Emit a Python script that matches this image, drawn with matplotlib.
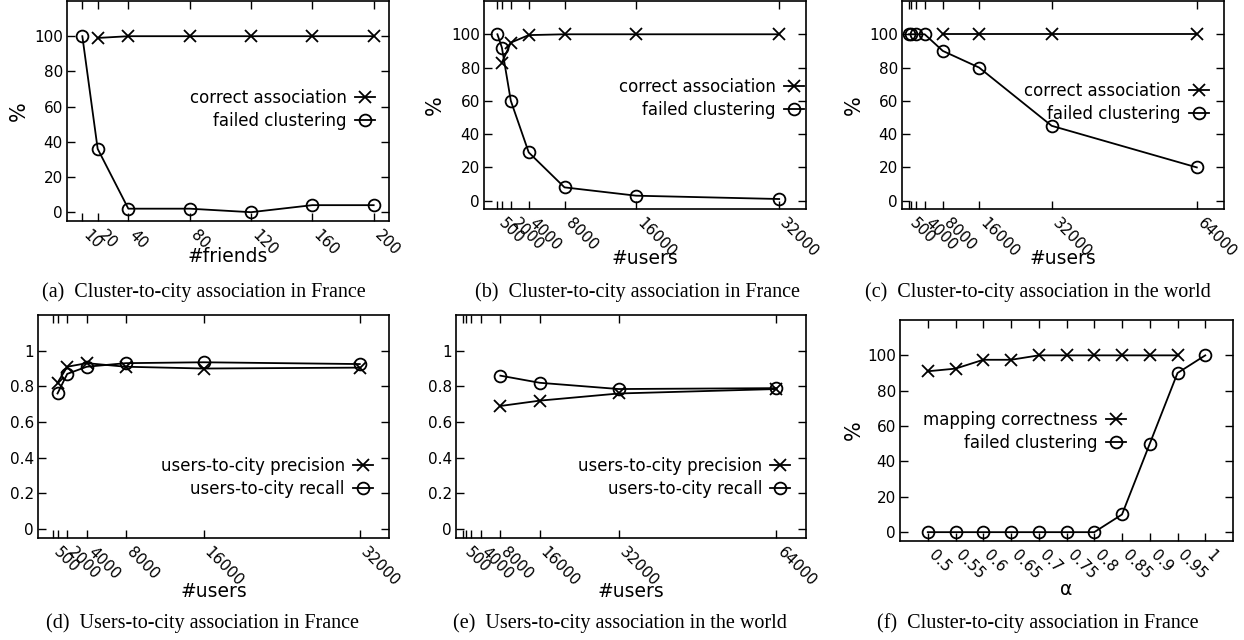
import matplotlib
matplotlib.use('Agg')
import matplotlib.pyplot as plt

# ---------------- data ----------------
a_friends = [10, 20, 40, 80, 120, 160, 200]
a_correct_x = [20, 40, 80, 120, 160, 200]
a_correct = [99, 100, 100, 100, 100, 100]
a_failed = [100, 36, 2, 2, 0, 4, 4]
a_ticks = [10, 20, 40, 80, 120, 160, 200]
a_labels = ['10', '20', '40', '80', '120', '160', '200']

b_users = [500, 1000, 2000, 4000, 8000, 16000, 32000]
b_correct_x = [1000, 2000, 4000, 8000, 16000, 32000]
b_correct = [83, 95, 99.5, 100, 100, 100]
b_failed = [100, 92, 60, 29, 8, 3, 1]
b_ticks = [500, 1000, 2000, 4000, 8000, 16000, 32000]
b_labels = ['500', '', '2000', '4000', '8000', '16000', '32000']

c_users = [500, 1000, 2000, 4000, 8000, 16000, 32000, 64000]
c_correct_x = [8000, 16000, 32000, 64000]
c_correct = [100, 100, 100, 100]
c_failed = [100, 100, 100, 100, 90, 80, 45, 20]
c_ticks = [500, 1000, 2000, 4000, 8000, 16000, 32000, 64000]
c_labels = ['500', '', '', '4000', '8000', '16000', '32000', '64000']

d_users = [1000, 2000, 4000, 8000, 16000, 32000]
d_precision = [0.82, 0.91, 0.93, 0.91, 0.90, 0.905]
d_recall = [0.76, 0.87, 0.91, 0.93, 0.935, 0.925]

e_users = [8000, 16000, 32000, 64000]
e_precision = [0.69, 0.72, 0.76, 0.785]
e_recall = [0.86, 0.82, 0.785, 0.79]

f_alpha = [0.5, 0.55, 0.6, 0.65, 0.7, 0.75, 0.8, 0.85, 0.9, 0.95, 1.0]
f_alpha_labels = ['0.5', '0.55', '0.6', '0.65', '0.7', '0.75', '0.8', '0.85', '0.9', '0.95', '1']
f_correct_x = [0.5, 0.55, 0.6, 0.65, 0.7, 0.75, 0.8, 0.85, 0.9, 0.95]
f_correct = [91, 92.5, 97.5, 97.5, 100, 100, 100, 100, 100, 100]
f_failed = [0, 0, 0, 0, 0, 0, 0, 10, 50, 90, 100]

pct_ticks = [0, 20, 40, 60, 80, 100]
frac_ticks = [0, 0.2, 0.4, 0.6, 0.8, 1.0]
frac_labels = ['0', '0.2', '0.4', '0.6', '0.8', '1']

captions = [
    '(a)  Cluster-to-city association in France',
    '(b)  Cluster-to-city association in France',
    '(c)  Cluster-to-city association in the world',
    '(d)  Users-to-city association in France',
    '(e)  Users-to-city association in the world',
    '(f)  Cluster-to-city association in France',
]

# ---------------- style ----------------
W, H = 1244, 640
plt.rcParams['font.family'] = ['DejaVu Sans']
fig = plt.figure(figsize=(W / 100, H / 100), dpi=100)

TICK_FS = 11
LEG_FS = 12
LAB_FS = 13.5
YLAB_FS = 15
CAP_FS = 14.5
LW = 1.3
xkw = dict(color='black', lw=LW, marker='x', markersize=9, mew=1.3)
okw = dict(color='black', lw=LW, marker='o', markersize=8.5, mew=1.3, fillstyle='none')


def make_ax(l, r, t, b):
    return fig.add_axes([l / W, 1 - b / H, (r - l) / W, (b - t) / H])


def style(ax, xticks, xlabels, yticks, ylabels):
    ax.set_xticks(xticks)
    ax.set_xticklabels(xlabels, rotation=-45, ha='left', va='baseline', rotation_mode='anchor')
    ax.set_yticks(yticks)
    ax.set_yticklabels(ylabels)
    ax.tick_params(direction='in', length=6, width=1, top=True, right=True,
                   labelsize=TICK_FS)
    ax.tick_params(axis='y', pad=3)
    ax.tick_params(axis='x', pad=10.5)
    for s in ax.spines.values():
        s.set_linewidth(1.2)


def legend(ax, x, y):
    ax.legend(loc='upper right', bbox_to_anchor=(x, y), frameon=False,
              markerfirst=False, fontsize=LEG_FS, handlelength=1.2,
              handletextpad=0.5, labelspacing=0.3, borderpad=0, borderaxespad=0)


# (a)
ax = make_ax(67, 389, 1, 221)
ax.plot(a_correct_x, a_correct, label='correct association', **xkw)
ax.plot(a_friends, a_failed, label='failed clustering', **okw)
ax.set_xlim(0, 210)
ax.set_ylim(-5, 120)
style(ax, a_ticks, a_labels, pct_ticks, [str(v) for v in pct_ticks])
legend(ax, 0.956, 0.6)
ax.set_xlabel('#friends', fontsize=LAB_FS)
ax.xaxis.set_label_coords(0.5, -0.118)
ax.set_ylabel('%', fontsize=YLAB_FS)
ax.yaxis.set_label_coords(-0.118, 0.5)

# (b)
ax = make_ax(484, 806, 1, 209)
ax.plot(b_correct_x, b_correct, label='correct association', **xkw)
ax.plot(b_users, b_failed, label='failed clustering', **okw)
ax.set_xlim(-1000, 35000)
ax.set_ylim(-5, 120)
style(ax, b_ticks, b_labels, pct_ticks, [str(v) for v in pct_ticks])
legend(ax, 0.993, 0.63)
ax.set_xlabel('#users', fontsize=LAB_FS)
ax.xaxis.set_label_coords(0.5, -0.19)
ax.set_ylabel('%', fontsize=YLAB_FS)
ax.yaxis.set_label_coords(-0.121, 0.5)

# (c)
ax = make_ax(902, 1224, 1, 209)
ax.plot(c_correct_x, c_correct, label='correct association', **xkw)
ax.plot(c_users, c_failed, label='failed clustering', **okw)
ax.set_xlim(-1000, 70000)
ax.set_ylim(-5, 120)
style(ax, c_ticks, c_labels, pct_ticks, [str(v) for v in pct_ticks])
legend(ax, 0.953, 0.61)
ax.set_xlabel('#users', fontsize=LAB_FS)
ax.xaxis.set_label_coords(0.5, -0.19)
ax.set_ylabel('%', fontsize=YLAB_FS)
ax.yaxis.set_label_coords(-0.118, 0.5)

# (d)
ax = make_ax(38, 389, 315, 538)
ax.plot(d_users, d_precision, label='users-to-city precision', **xkw)
ax.plot(d_users, d_recall, label='users-to-city recall', **okw)
ax.set_xlim(-1000, 35000)
ax.set_ylim(-0.05, 1.2)
style(ax, b_ticks, b_labels, frac_ticks, frac_labels)
legend(ax, 0.955, 0.362)
ax.set_xlabel('#users', fontsize=LAB_FS)
ax.xaxis.set_label_coords(0.5, -0.197)

# (e)
ax = make_ax(456, 806, 315, 538)
ax.plot(e_users, e_precision, label='users-to-city precision', **xkw)
ax.plot(e_users, e_recall, label='users-to-city recall', **okw)
ax.set_xlim(-1000, 70000)
ax.set_ylim(-0.05, 1.2)
style(ax, c_ticks, c_labels, frac_ticks, frac_labels)
legend(ax, 0.955, 0.362)
ax.set_xlabel('#users', fontsize=LAB_FS)
ax.xaxis.set_label_coords(0.5, -0.197)

# (f)
ax = make_ax(900, 1233, 320, 541)
ax.plot(f_correct_x, f_correct, label='mapping correctness', **xkw)
ax.plot(f_alpha, f_failed, label='failed clustering', **okw)
ax.set_xlim(0.45, 1.05)
ax.set_ylim(-5, 120)
style(ax, f_alpha, f_alpha_labels, pct_ticks, [str(v) for v in pct_ticks])
legend(ax, 0.678, 0.587)
ax.set_xlabel('α', fontsize=LAB_FS)
ax.xaxis.set_label_coords(0.5, -0.176)
ax.set_ylabel('%', fontsize=YLAB_FS)
ax.yaxis.set_label_coords(-0.108, 0.5)

# captions
cap_pos = [(204, 292), (637, 292), (1038, 292), (203, 623), (620, 623), (1038, 623)]
for (cx, cy), txt in zip(cap_pos, captions):
    fig.text(cx / W, 1 - cy / H, txt, ha='center', va='center',
             fontsize=CAP_FS, family='Liberation Serif')

fig.savefig('out.png', dpi=100)
